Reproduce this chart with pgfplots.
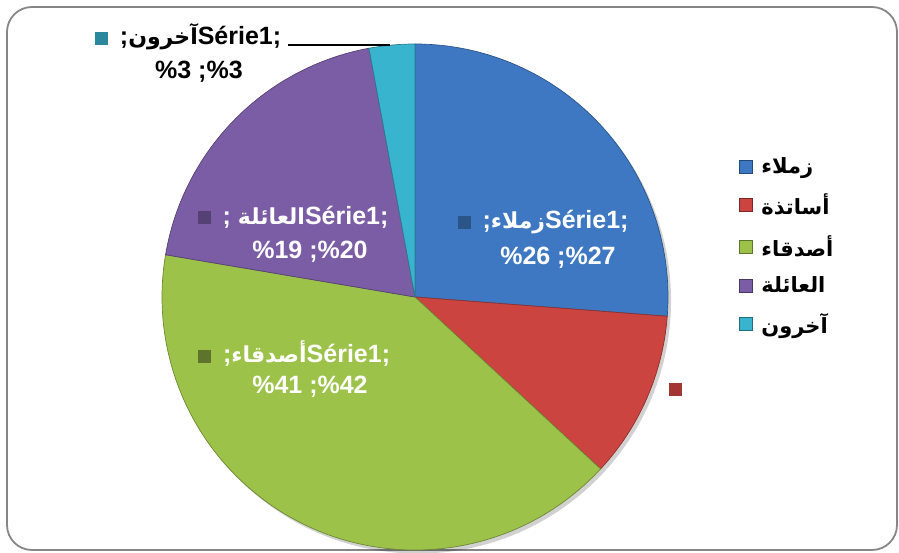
\documentclass[border=0pt]{standalone}
\usepackage{pgfplots}
\pgfplotsset{compat=1.18}
\usepackage{pgfplotstable}
\usepackage{fontspec}
\setmainfont{Liberation Sans}
\newfontfamily\arabicfont[Script=Arabic]{DejaVu Sans}
\TeXXeTstate=1
\definecolor{zblue}{RGB}{62,120,194}
\definecolor{zred}{RGB}{203,68,64}
\definecolor{zgreen}{RGB}{156,194,74}
\definecolor{zpurple}{RGB}{123,93,166}
\definecolor{zcyan}{RGB}{57,180,206}
\definecolor{frame}{RGB}{134,134,134}

\pgfplotstableread{
value
27
11
42
20
3
}\piedata

\newcommand\ar[1]{{\arabicfont\fontsize{22}{30}\selectfont\beginR #1\endR}}

\begin{document}%
\begin{tikzpicture}
\pgfplotstablegetelem{0}{value}\of\piedata\let\vA\pgfplotsretval
\pgfplotstablegetelem{1}{value}\of\piedata\let\vB\pgfplotsretval
\pgfplotstablegetelem{2}{value}\of\piedata\let\vC\pgfplotsretval
\pgfplotstablegetelem{3}{value}\of\piedata\let\vD\pgfplotsretval
\pgfplotstablegetelem{4}{value}\of\piedata\let\vE\pgfplotsretval
\pgfmathsetmacro\tot{\vA+\vB+\vC+\vD+\vE}
\pgfmathsetmacro\aA{90}
\pgfmathsetmacro\aB{\aA-360*\vA/\tot}
\pgfmathsetmacro\aC{\aB-360*\vB/\tot}
\pgfmathsetmacro\aD{\aC-360*\vC/\tot}
\pgfmathsetmacro\aE{\aD-360*\vD/\tot}
\pgfmathsetmacro\aF{\aE-360*\vE/\tot}
\path[use as bounding box] (0,0) rectangle (899pt,552pt);
\draw[frame, line width=1.8pt, rounded corners=25pt] (7pt,2pt) rectangle (897pt,545pt);
\begin{axis}[
  hide axis, scale only axis, width=506pt, height=506pt,
  xmin=-1, xmax=1, ymin=-1, ymax=1,
  at={(415pt,255pt)}, anchor=origin, clip=false,
  legend style={at={(1.134,0.782)}, anchor=north west, draw=none, fill=none,
    font=\bfseries\fontsize{21}{25}\selectfont, row sep=17pt,
    nodes={inner sep=1pt}},
  legend cell align=left,
]
\fill[black, opacity=0.18] (axis cs:0.012,-0.014) circle[radius=253pt];
\fill[zblue, draw=zblue!70!black, line width=0.7pt] (axis cs:0,0) -- (axis cs:{cos(\aA)},{sin(\aA)}) arc[start angle=\aA, end angle=\aB, radius=253pt] -- cycle;
\fill[zred, draw=zred!70!black, line width=0.7pt] (axis cs:0,0) -- (axis cs:{cos(\aB)},{sin(\aB)}) arc[start angle=\aB, end angle=\aC, radius=253pt] -- cycle;
\fill[zgreen, draw=zgreen!70!black, line width=0.7pt] (axis cs:0,0) -- (axis cs:{cos(\aC)},{sin(\aC)}) arc[start angle=\aC, end angle=\aD, radius=253pt] -- cycle;
\fill[zpurple, draw=zpurple!70!black, line width=0.7pt] (axis cs:0,0) -- (axis cs:{cos(\aD)},{sin(\aD)}) arc[start angle=\aD, end angle=\aE, radius=253pt] -- cycle;
\fill[zcyan, draw=zcyan!70!black, line width=0.7pt] (axis cs:0,0) -- (axis cs:{cos(\aE)},{sin(\aE)}) arc[start angle=\aE, end angle=\aF, radius=253pt] -- cycle;

\addlegendimage{legend image code/.code={\draw[fill=zblue, draw=zblue!60!black] (0pt,-6.5pt) rectangle (13pt,6.5pt);}}
\addlegendentry{\hspace{8pt}\arabicfont\beginR زملاء\endR}
\addlegendimage{legend image code/.code={\draw[fill=zred, draw=zred!60!black] (0pt,-6.5pt) rectangle (13pt,6.5pt);}}
\addlegendentry{\hspace{8pt}\arabicfont\beginR أساتذة\endR}
\addlegendimage{legend image code/.code={\draw[fill=zgreen, draw=zgreen!60!black] (0pt,-6.5pt) rectangle (13pt,6.5pt);}}
\addlegendentry{\hspace{8pt}\arabicfont\beginR أصدقاء\endR}
\addlegendimage{legend image code/.code={\draw[fill=zpurple, draw=zpurple!60!black] (0pt,-6.5pt) rectangle (13pt,6.5pt);}}
\addlegendentry{\hspace{8pt}\arabicfont\beginR العائلة\endR}
\addlegendimage{legend image code/.code={\draw[fill=zcyan, draw=zcyan!60!black] (0pt,-6.5pt) rectangle (13pt,6.5pt);}}
\addlegendentry{\hspace{8pt}\arabicfont\beginR آخرون\endR}

\tikzset{lab/.style={font=\bfseries\fontsize{25}{30}\selectfont, inner sep=0pt}}
% blue label
\node[lab, text=white] at (axis cs:0.506,0.296) {\textcolor{zblue!70!black}{\rule{13pt}{13pt}}\hspace{12pt};\ar{زملاء}Série1;};
\node[lab, text=white] at (axis cs:0.565,0.154) {\%26 ;\%27};
% purple label
\node[lab, text=white] at (axis cs:-0.482,0.316) {\textcolor{zpurple!70!black}{\rule{13pt}{13pt}}\hspace{12pt}; \ar{العائلة}Série1;};
\node[lab, text=white] at (axis cs:-0.415,0.178) {\%19 ;\%20};
% green label
\node[lab, text=white] at (axis cs:-0.478,-0.225) {\textcolor{zgreen!60!black}{\rule{13pt}{13pt}}\hspace{12pt};\ar{أصدقاء}Série1;};
\node[lab, text=white] at (axis cs:-0.415,-0.356) {\%41 ;\%42};
% red marker
\node[lab] at (axis cs:1.028,-0.364) {\textcolor{zred!80!black}{\rule{13pt}{13pt}}};
% cyan label
\node[lab, text=black] at (axis cs:-0.897,1.028) {\textcolor{zcyan!75!black}{\rule{13pt}{13pt}}\hspace{12pt};\ar{آخرون}Série1;};
\node[lab, text=black] at (axis cs:-0.854,0.889) {\%3 ;\%3};
\draw[black, line width=1.2pt] (axis cs:-0.502,0.996) -- (axis cs:-0.099,0.996);
\end{axis}
\end{tikzpicture}%
\end{document}
